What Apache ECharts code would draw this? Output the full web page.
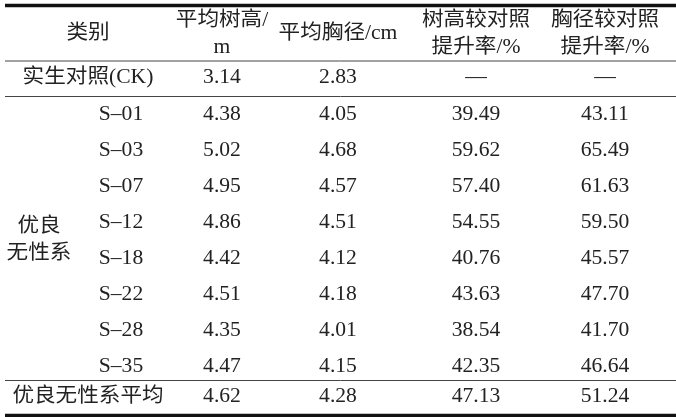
<!DOCTYPE html>
<html>
<head>
<meta charset="UTF-8">
<title>优良无性系生长表</title>
<script src="https://cdn.jsdelivr.net/npm/echarts@6/dist/echarts.min.js"></script>
<style>
  * { margin: 0; padding: 0; }
  html, body { background: #fff; }
  #main { width: 676px; height: 417px; }
</style>
</head>
<body>
<div id="main"></div>
<script>
// ---- data ----
var headers = ['类别', '平均树高/\nm', '平均胸径/cm', '树高较对照\n提升率/%', '胸径较对照\n提升率/%'];
var ckRow = ['实生对照(CK)', 3.14, 2.83, null, null];
var groupName = '优良\n无性系';
var clones = ['S\u201301', 'S\u201303', 'S\u201307', 'S\u201312', 'S\u201318', 'S\u201322', 'S\u201328', 'S\u201335'];
var heights = [4.38, 5.02, 4.95, 4.86, 4.42, 4.51, 4.35, 4.47];
var diameters = [4.05, 4.68, 4.57, 4.51, 4.12, 4.18, 4.01, 4.15];
var heightGain = [39.49, 59.62, 57.40, 54.55, 40.76, 43.63, 38.54, 42.35];
var diamGain = [43.11, 65.49, 61.63, 59.50, 45.57, 47.70, 41.70, 46.64];
var avgRow = ['优良无性系平均', 4.62, 4.28, 47.13, 51.24];

// ---- layout ----
var colX = [88, 222, 338, 476, 605];   // column centres
var cloneX = 121, groupX = 39;
var headerY = 34, ckY = 78, firstCloneY = 115, rowStep = 35.9, avgY = 397;
var rules = [[5.5, 3.5], [61, 1], [96.5, 1], [380.5, 1], [415.5, 3.5]];

function fmt(v) { return v == null ? '\u2014' : v.toFixed(2); }

var cells = [];
headers.forEach(function (h, i) { cells.push({ x: colX[i], y: headerY, text: h }); });
cells.push({ x: colX[0], y: ckY, text: ckRow[0] });
for (var c = 1; c < 5; c++) cells.push({ x: colX[c], y: ckY, text: fmt(ckRow[c]) });
clones.forEach(function (name, i) {
  var y = firstCloneY + i * rowStep;
  cells.push({ x: cloneX, y: y, text: name });
  cells.push({ x: colX[1], y: y, text: fmt(heights[i]) });
  cells.push({ x: colX[2], y: y, text: fmt(diameters[i]) });
  cells.push({ x: colX[3], y: y, text: fmt(heightGain[i]) });
  cells.push({ x: colX[4], y: y, text: fmt(diamGain[i]) });
});
cells.push({ x: groupX, y: firstCloneY + 3.5 * rowStep, text: groupName });
cells.push({ x: colX[0], y: avgY, text: avgRow[0] });
for (var c2 = 1; c2 < 5; c2++) cells.push({ x: colX[c2], y: avgY, text: fmt(avgRow[c2]) });

var chart = echarts.init(document.getElementById('main'));
chart.setOption({
  backgroundColor: '#fff',
  animation: false,
  grid: { left: 0, right: 0, top: 0, bottom: 0 },
  xAxis: { type: 'value', min: 0, max: 676, show: false },
  yAxis: { type: 'value', min: 0, max: 417, inverse: true, show: false },
  series: [{
    type: 'custom',
    data: rules,
    renderItem: function (params, api) {
      var a = api.coord([5, api.value(0)]);
      var b = api.coord([676, api.value(0)]);
      return {
        type: 'line',
        shape: { x1: a[0], y1: a[1], x2: b[0], y2: b[1] },
        style: { stroke: api.value(1) > 2 ? '#111' : '#444', lineWidth: api.value(1) }
      };
    }
  }, {
    type: 'custom',
    data: cells.map(function (d) { return [d.x, d.y]; }),
    renderItem: function (params, api) {
      var p = api.coord([api.value(0), api.value(1)]);
      return {
        type: 'text',
        x: p[0], y: p[1],
        scaleX: 1.08,
        style: {
          text: cells[params.dataIndex].text,
          fontFamily: '"Liberation Serif", "Noto Sans CJK SC"',
          fontSize: 20,
          lineHeight: 27,
          fill: '#222',
          align: 'center',
          verticalAlign: 'middle'
        }
      };
    }
  }]
});
</script>
</body>
</html>
